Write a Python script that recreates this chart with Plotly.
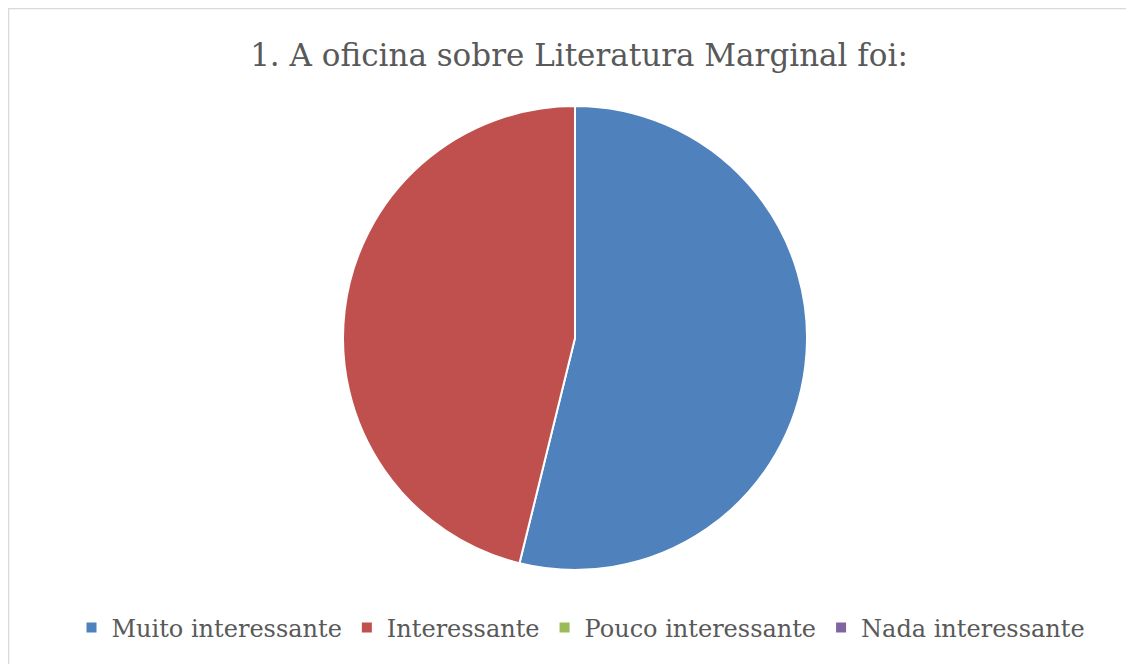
import plotly.graph_objects as go

categories = ["Muito interessante", "Interessante", "Pouco interessante", "Nada interessante"]
values = [7, 6, 0, 0]
colors = ["#4F81BD", "#C0504D", "#9BBB59", "#8064A2"]
title_text = "1. A oficina sobre Literatura Marginal foi:"

W, H = 1134, 664
OFF = 8  # page body margin
cx, cy, r = 575 - OFF, 338 - OFF, 232
SERIF = "DejaVu Serif"

fig = go.Figure(go.Pie(
    labels=categories,
    values=values,
    marker=dict(colors=colors, line=dict(color="white", width=2)),
    sort=False,
    direction="clockwise",
    rotation=0,
    textinfo="none",
    hoverinfo="label+value+percent",
    domain=dict(x=[(cx - r) / W, (cx + r) / W], y=[(H - cy - r) / H, (H - cy + r) / H]),
))

fig.update_layout(
    width=W, height=H,
    margin=dict(l=0, r=0, t=0, b=0),
    paper_bgcolor="white",
    font=dict(family=SERIF, color="#595959"),
    title=dict(text=title_text, x=(579 - OFF) / W, xanchor="center", y=1 - (55 - OFF) / H, yanchor="middle",
               font=dict(size=31, color="#595959", family=SERIF)),
    legend=dict(orientation="h", x=(581 - OFF) / W, xanchor="center", y=1 - (628 - OFF) / H, yanchor="middle",
                font=dict(size=24, color="#595959", family=SERIF), itemwidth=30, traceorder="normal"),
    shapes=[dict(type="rect", xref="paper", yref="paper", x0=0.5 / W, x1=(1130 - OFF) / W, y0=-0.02, y1=1 - 0.5 / H,
                 line=dict(color="#D9D9D9", width=1.5), fillcolor="rgba(0,0,0,0)")],
)

fig.write_html("out.html")
